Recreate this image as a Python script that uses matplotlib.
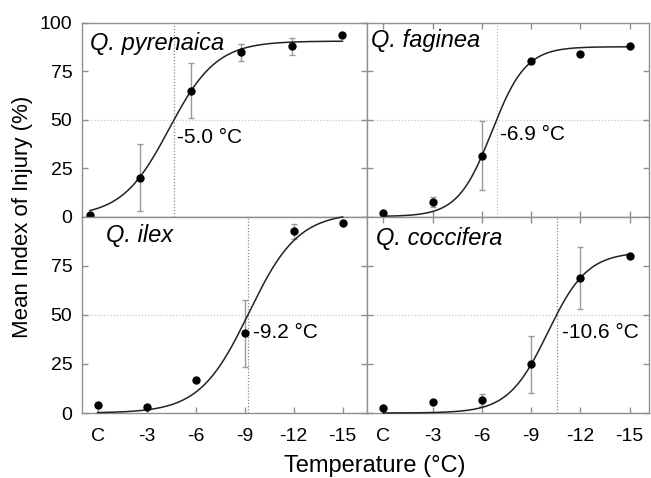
import numpy as np
import matplotlib
matplotlib.use("Agg")
import matplotlib.pyplot as plt

plt.rcParams['font.family'] = ['Liberation Sans', 'DejaVu Sans']

# ---- data ----
temps = [0, -3, -6, -9, -12, -15]
tick_labels = ["C", "-3", "-6", "-9", "-12", "-15"]
species = ["Q. pyrenaica", "Q. faginea", "Q. ilex", "Q. coccifera"]

pyrenaica_mean = [1.0, 20.0, 65.0, 84.7, 87.8, 93.8]
pyrenaica_err = [0.0, 17.4, 14.0, 4.3, 4.3, 0.0]
faginea_mean = [2.0, 7.4, 31.3, 80.2, 83.8, 88.0]
faginea_err = [0.0, 2.6, 17.8, 0.0, 0.0, 0.0]
ilex_mean = [4.1, 3.0, 16.6, 40.6, 92.4, 96.5]
ilex_err = [0.0, 0.0, 0.0, 17.0, 3.7, 0.0]
coccifera_mean = [2.7, 5.6, 6.8, 24.7, 68.8, 79.7]
coccifera_err = [0.0, 0.0, 3.0, 14.5, 15.8, 0.0]

# fitted logistic parameters (asymptote, LT50 in deg C, slope)
fit_asym = [90.5, 87.6, 102.0, 82.0]
fit_lt50 = [-5.0, -6.9, -9.2, -10.55]
fit_slope = [0.711, 0.969, 0.662, 0.831]

# LT50 vertical-line positions and labels
lt50_line = [-5.0, -6.9, -9.2, -10.6]
lt50_text = ["-5.0 °C", "-6.9 °C", "-9.2 °C", "-10.6 °C"]
lt50_text_pos = [(5.15, 37.9), (7.1, 39.3), (9.53, 38.1), (10.88, 38.1)]

means = [pyrenaica_mean, faginea_mean, ilex_mean, coccifera_mean]
errs = [pyrenaica_err, faginea_err, ilex_err, coccifera_err]

W, H = 651, 478
fig = plt.figure(figsize=(W / 100, H / 100), dpi=100)

def rect(x0, y0, x1, y1):
    return [x0 / W, 1 - y1 / H, (x1 - x0) / W, (y1 - y0) / H]

rects = [rect(82, 22.7, 367, 216.5), rect(367, 22.7, 649.3, 216.5),
         rect(82, 216.5, 367, 413), rect(367, 216.5, 649.3, 413)]
xlims = [(-0.475, 16.46), (-0.99, 16.19), (-0.96, 16.49), (-0.99, 16.19)]
name_pos = [(0.028, 0.859), (0.014, 0.876), (0.083, 0.869), (0.032, 0.856)]
vline_colors = ['#888888', '#c0c0c0', '#888888', '#888888']

spine_c = '#8f8f8f'
x_pos = [-t for t in temps]

for i in range(4):
    ax = fig.add_axes(rects[i])
    ax.set_xlim(*xlims[i])
    ax.set_ylim(0, 100)
    for s in ax.spines.values():
        s.set_color(spine_c)
        s.set_linewidth(1.0)

    ax.axhline(50, color='#c8c8c8', lw=0.9, ls=(0, (1, 1.5)), zorder=1)
    ax.axvline(-lt50_line[i], color=vline_colors[i], lw=0.9, ls=(0, (1, 1.5)), zorder=1)

    xs = np.linspace(0, 15, 300)
    A, x50, k = fit_asym[i], -fit_lt50[i], fit_slope[i]
    xm = x50 + np.log(A / 50 - 1) / k
    ys = A / (1 + np.exp(-k * (xs - xm)))
    ax.plot(xs, ys, color='#222222', lw=1.1, zorder=3, clip_on=False)

    e = np.array(errs[i])
    ax.errorbar(x_pos, means[i], yerr=np.where(e > 0, e, np.nan), fmt='none',
                ecolor='#9a9a9a', elinewidth=1.0, capsize=2.5, capthick=1.0, zorder=2)
    ax.plot(x_pos, means[i], 'o', color='black', ms=5, zorder=4, clip_on=False)

    ax.text(name_pos[i][0], name_pos[i][1], species[i], transform=ax.transAxes,
            fontsize=17, fontstyle='italic', ha='left', va='baseline')
    ax.text(lt50_text_pos[i][0], lt50_text_pos[i][1], lt50_text[i],
            fontsize=15, ha='left', va='baseline')

    ax.set_xticks(x_pos)
    ax.set_yticks([0, 25, 50, 75, 100] if i == 0 else [0, 25, 50, 75])
    ax.tick_params(direction='in', length=4.5, width=1.0, color=spine_c,
                   labelsize=14, right=True)
    ax.tick_params(axis='y', pad=7)
    ax.tick_params(axis='x', pad=11)
    if i in (1, 3):
        ax.tick_params(axis='x', top=True)
        ax.tick_params(axis='y', labelleft=False)
    if i in (0, 1):
        ax.tick_params(axis='x', labelbottom=False)
        if i == 0:
            ax.tick_params(axis='x', bottom=False)
    else:
        ax.set_xticklabels(tick_labels)

fig.text(23 / W, 1 - 216.7 / H, "Mean Index of Injury (%)", rotation=90,
         fontsize=16, ha='center', va='center')
fig.text(375 / W, 1 - 466 / H, "Temperature (°C)", fontsize=17,
         ha='center', va='center')

fig.savefig("out.png", dpi=100)
